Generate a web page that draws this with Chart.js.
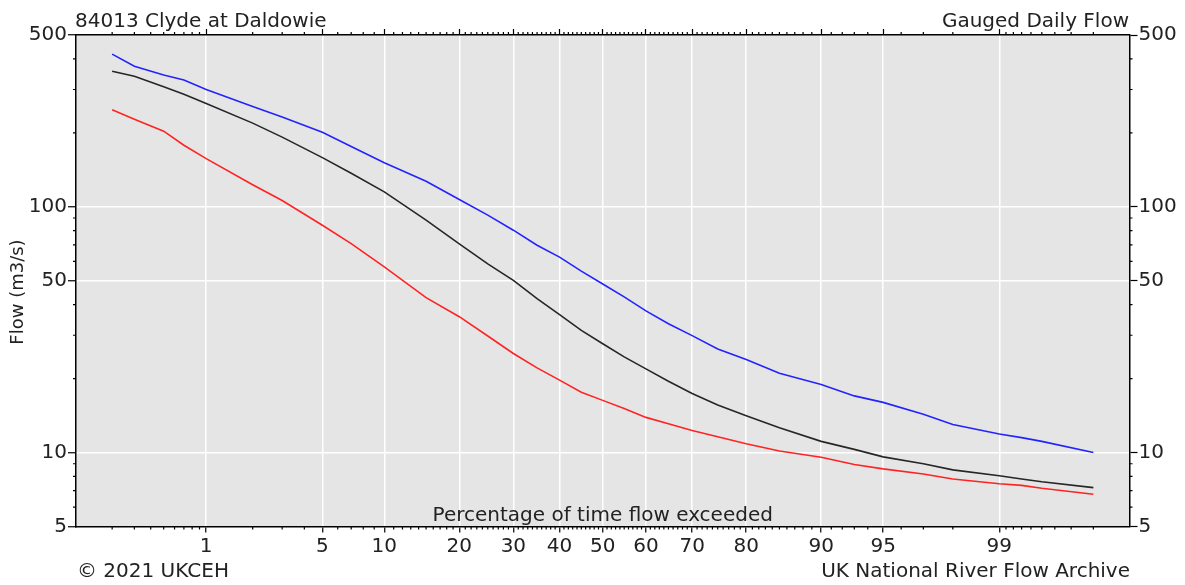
<!DOCTYPE html>
<html>
<head>
<meta charset="utf-8">
<title>84013 Clyde at Daldowie - Gauged Daily Flow</title>
<script src="https://cdn.jsdelivr.net/npm/chart.js@4.4.1/dist/chart.umd.min.js"></script>
<style>
  html, body { margin: 0; padding: 0; background: #fff; }
  #wrap { width: 1185px; height: 585px; }
</style>
</head>
<body>
<div id="wrap"><canvas id="fdc" width="1185" height="585"></canvas></div>
<script>
// percentage of time flow exceeded
const exceedance = [0.2, 0.3, 0.5, 0.7, 1, 2, 3, 5, 7, 10, 15, 20, 25, 30, 35, 40, 45, 50, 55, 60, 65, 70, 75, 80, 85, 90, 93, 95, 97, 98, 99, 99.3, 99.5, 99.8];
// flows (m3/s)
const flowUpper = [418, 373, 344, 328, 300, 256, 232, 201, 176, 151, 127, 107, 92.5, 80.3, 69.7, 62.4, 54.7, 48.5, 43.0, 37.7, 33.4, 29.9, 26.4, 23.9, 21.0, 18.9, 17.0, 16.0, 14.3, 13.0, 11.9, 11.5, 11.1, 10.0];
const flowMedian = [356, 340, 308, 287, 263, 219, 192, 158.5, 137, 115, 88.2, 70.7, 58.6, 50.2, 42.3, 36.4, 31.4, 27.7, 24.5, 21.9, 19.5, 17.4, 15.6, 14.1, 12.6, 11.1, 10.3, 9.6, 9.0, 8.5, 8.05, 7.8, 7.6, 7.2];
const flowLower = [248, 227, 203, 178, 157, 123, 106, 84.1, 70.8, 56.9, 42.7, 35.7, 29.8, 25.3, 22.1, 19.7, 17.6, 16.3, 15.1, 13.9, 13.1, 12.3, 11.6, 10.85, 10.15, 9.56, 8.94, 8.58, 8.18, 7.8, 7.46, 7.35, 7.15, 6.76];

// axis ticks
const xTicks = [1, 5, 10, 20, 30, 40, 50, 60, 70, 80, 90, 95, 99];
const yTicks = [5, 10, 50, 100, 500];
const yMinorTicks = [6, 7, 8, 9, 20, 30, 40, 60, 70, 80, 90, 200, 300, 400];
let xMinorTicks = [0.2, 0.3, 0.4, 0.5, 0.6, 0.7, 0.8, 0.9, 2, 3, 4, 6, 7, 8, 9];
for (let i = 11; i < 90; i++) {
    if (i % 10 != 0) xMinorTicks.push(i);
}
xMinorTicks = xMinorTicks.concat([91, 92, 93, 94, 96, 97, 98, 99.1, 99.2, 99.3, 99.4, 99.5, 99.6, 99.7, 99.8]);

const FONT = '"DejaVu Sans", "Liberation Sans", sans-serif';
const TEXT = '#222';

// inverse normal cdf (Acklam)
function probit(p) {
    const a = [-3.969683028665376e+01, 2.209460984245205e+02, -2.759285104469687e+02, 1.383577518672690e+02, -3.066479806614716e+01, 2.506628277459239e+00];
    const b = [-5.447609879822406e+01, 1.615858368580409e+02, -1.556989798598866e+02, 6.680131188771972e+01, -1.328068155288572e+01];
    const c = [-7.784894002430293e-03, -3.223964580411365e-01, -2.400758277161838e+00, -2.549732539343734e+00, 4.374664141464968e+00, 2.938163982698783e+00];
    const d = [7.784695709041462e-03, 3.224671290700398e-01, 2.445134137142996e+00, 3.754408661907416e+00];
    const pl = 0.02425;
    let q, r;
    if (p < pl) {
        q = Math.sqrt(-2 * Math.log(p));
        return (((((c[0]*q+c[1])*q+c[2])*q+c[3])*q+c[4])*q+c[5]) / ((((d[0]*q+d[1])*q+d[2])*q+d[3])*q+1);
    }
    if (p > 1 - pl) {
        q = Math.sqrt(-2 * Math.log(1 - p));
        return -(((((c[0]*q+c[1])*q+c[2])*q+c[3])*q+c[4])*q+c[5]) / ((((d[0]*q+d[1])*q+d[2])*q+d[3])*q+1);
    }
    q = p - 0.5;
    r = q * q;
    return (((((a[0]*r+a[1])*r+a[2])*r+a[3])*r+a[4])*r+a[5])*q / (((((b[0]*r+b[1])*r+b[2])*r+b[3])*r+b[4])*r+1);
}

// probability scale: percentages placed by their normal quantile
class ProbitScale extends Chart.Scale {
    determineDataLimits() {
        this.min = this.options.min;
        this.max = this.options.max;
    }
    buildTicks() {
        return xTicks.map(v => ({ value: v }));
    }
    getLabelForValue(v) {
        return String(v);
    }
    configure() {
        super.configure();
        this._zMin = probit(this.min / 100);
        this._zMax = probit(this.max / 100);
    }
    getPixelForValue(v) {
        const z = probit(v / 100);
        return this.getPixelForDecimal((z - this._zMin) / (this._zMax - this._zMin));
    }
    getValueForPixel(px) {
        const z = this._zMin + this.getDecimalForPixel(px) * (this._zMax - this._zMin);
        let lo = this.min, hi = this.max;
        for (let i = 0; i < 50; i++) {
            const mid = (lo + hi) / 2;
            if (probit(mid / 100) < z) lo = mid; else hi = mid;
        }
        return (lo + hi) / 2;
    }
}
ProbitScale.id = 'probit';
ProbitScale.defaults = {};
Chart.register(ProbitScale);

function series(values) {
    return exceedance.map((p, i) => ({ x: p, y: values[i] }));
}

// grey panel, minor ticks and the free texts
const framePlugin = {
    id: 'frame',
    beforeDraw(chart) {
        const { ctx, chartArea: a } = chart;
        ctx.save();
        ctx.fillStyle = '#e5e5e5';
        ctx.fillRect(a.left, a.top, a.right - a.left, a.bottom - a.top);
        ctx.restore();
    },
    afterDraw(chart) {
        const { ctx, chartArea: a, scales } = chart;
        ctx.save();
        ctx.strokeStyle = '#000';
        ctx.lineWidth = 1.2;
        ctx.beginPath();
        xMinorTicks.forEach(v => {
            const px = scales.x.getPixelForValue(v);
            ctx.moveTo(px, a.bottom); ctx.lineTo(px, a.bottom + 3);
            ctx.moveTo(px, a.top); ctx.lineTo(px, a.top - 3);
        });
        yMinorTicks.forEach(v => {
            const py = scales.y.getPixelForValue(v);
            ctx.moveTo(a.left - 3, py); ctx.lineTo(a.left, py);
            ctx.moveTo(a.right, py); ctx.lineTo(a.right + 3, py);
        });
        ctx.stroke();

        ctx.fillStyle = TEXT;
        ctx.font = '20px ' + FONT;
        ctx.textBaseline = 'alphabetic';
        ctx.textAlign = 'left';
        ctx.fillText('84013 Clyde at Daldowie', 75, 27);
        ctx.fillText('\u00a9 2021 UKCEH', 77, 577);
        ctx.textAlign = 'right';
        ctx.fillText('Gauged Daily Flow', 1129, 27);
        ctx.fillText('UK National River Flow Archive', 1130, 577);
        ctx.textAlign = 'center';
        ctx.fillText('Percentage of time flow exceeded', (a.left + a.right) / 2, 521);

        // y axis title
        ctx.font = '18px ' + FONT;
        ctx.textBaseline = 'middle';
        ctx.translate(18, 292);
        ctx.rotate(-Math.PI / 2);
        ctx.fillText('Flow (m3/s)', 0, 0);
        ctx.restore();
    }
};

function yGridColor(c) {
    if (c.tick && c.tick.value > 5 && c.tick.value < 500) return '#ffffff';
    return 'rgba(0,0,0,0)';
}

Chart.defaults.font.family = FONT;
Chart.defaults.font.size = 20;
Chart.defaults.color = TEXT;

new Chart(document.getElementById('fdc'), {
    type: 'line',
    data: {
        datasets: [
            { label: 'Upper', data: series(flowUpper), borderColor: '#2323ff' },
            { label: 'Median', data: series(flowMedian), borderColor: '#262626' },
            { label: 'Lower', data: series(flowLower), borderColor: '#ff2323' }
        ]
    },
    options: {
        responsive: false,
        animation: false,
        events: [],
        layout: { padding: 0 },
        elements: {
            point: { radius: 0 },
            line: { borderWidth: 1.6, tension: 0 }
        },
        plugins: {
            legend: { display: false },
            tooltip: { enabled: false }
        },
        scales: {
            x: {
                type: 'probit',
                position: 'bottom',
                min: 0.1,
                max: 99.9,
                afterFit: s => { s.height = 58.5; },
                border: { color: '#000', width: 1.5 },
                grid: { color: '#ffffff', lineWidth: 1.5, tickColor: '#000', tickLength: 6, tickWidth: 1.2 },
                ticks: { autoSkip: false, maxRotation: 0, padding: 2, color: TEXT, callback: v => String(v) }
            },
            xTop: {
                type: 'probit',
                position: 'top',
                min: 0.1,
                max: 99.9,
                afterFit: s => { s.height = 35; },
                border: { color: '#000', width: 1.5 },
                grid: { drawOnChartArea: false, tickColor: '#000', tickLength: 6, tickWidth: 1.2 },
                ticks: { display: false }
            },
            y: {
                type: 'logarithmic',
                position: 'left',
                min: 5,
                max: 500,
                afterBuildTicks: s => { s.ticks = yTicks.map(v => ({ value: v })); },
                afterFit: s => { s.width = 76; },
                border: { color: '#000', width: 1.5 },
                grid: { color: yGridColor, lineWidth: 1.5, tickColor: '#000', tickLength: 8, tickWidth: 1.2 },
                ticks: { autoSkip: false, padding: 1, color: TEXT, callback: v => String(v) }
            },
            yRight: {
                type: 'logarithmic',
                position: 'right',
                min: 5,
                max: 500,
                afterBuildTicks: s => { s.ticks = yTicks.map(v => ({ value: v })); },
                afterFit: s => { s.width = 55.5; },
                border: { color: '#000', width: 1.5 },
                grid: { drawOnChartArea: false, tickColor: '#000', tickLength: 8, tickWidth: 1.2 },
                ticks: { autoSkip: false, padding: 1, color: TEXT, callback: v => String(v) }
            }
        }
    },
    plugins: [framePlugin]
});
</script>
</body>
</html>
